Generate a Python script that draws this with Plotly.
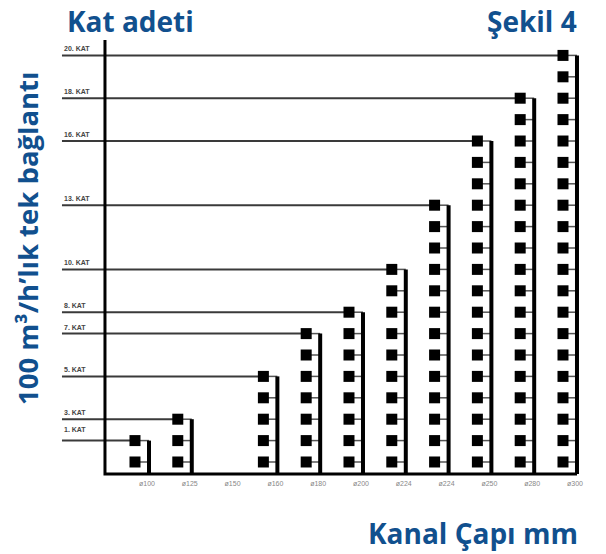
import plotly.graph_objects as go

# ---- data ----
diameters = ["ø100", "ø125", "ø150", "ø160", "ø180", "ø200", "ø224", "ø224", "ø250", "ø280", "ø300"]
square_counts = [2, 3, 0, 5, 7, 8, 10, 13, 16, 18, 20]
kat_labels = ["1. KAT", "3. KAT", "", "5. KAT", "7. KAT", "8. KAT", "10. KAT", "13. KAT", "16. KAT", "18. KAT", "20. KAT"]

title_left = "Kat adeti"
title_right = "Şekil 4"
x_title = "Kanal Çapı mm"
y_title = "100 m³/h’lık tek bağlantı"

BLUE = "#11508e"
FONT = "Open Sans"

# layout geometry (styling)
W, H = 606, 554
ML, MR, MT, MB = 60, 16, 36, 76
X_RANGE = [-1.752, 10.631]
Y_RANGE = [0.252, 20.907]
RISER_OFF = 0.327
LABEL_X = -1.706
AXIS_X = -0.701
BASE_Y = 0.439
AXIS_TOP = 20.72

idx = list(range(len(diameters)))

lx, ly = [], []
for i, n in zip(idx, square_counts):
    if n > 0:
        lx += [LABEL_X, i, None]
        ly += [n, n, None]

sx, sy = [], []
for i, n in zip(idx, square_counts):
    for k in range(1, n + 1):
        sx += [i, i + RISER_OFF, None]
        sy += [k, k, None]

rx, ry = [], []
for i, n in zip(idx, square_counts):
    if n > 0:
        rx += [i + RISER_OFF, i + RISER_OFF, None]
        ry += [n, BASE_Y, None]

qx, qy = [], []
for i, n in zip(idx, square_counts):
    for k in range(1, n + 1):
        qx.append(i)
        qy.append(k)

last = idx[-1] + RISER_OFF

fig = go.Figure()
fig.add_trace(go.Scatter(x=lx, y=ly, mode="lines", line=dict(color="#3a3a3a", width=2), hoverinfo="skip"))
fig.add_trace(go.Scatter(x=sx, y=sy, mode="lines", line=dict(color="#555555", width=1.5), hoverinfo="skip"))
fig.add_trace(go.Scatter(x=rx, y=ry, mode="lines", line=dict(color="#000000", width=4), hoverinfo="skip"))
fig.add_trace(go.Scatter(x=[AXIS_X, AXIS_X, last], y=[AXIS_TOP, BASE_Y, BASE_Y], mode="lines",
                         line=dict(color="#000000", width=3), hoverinfo="skip"))
fig.add_trace(go.Scatter(x=qx, y=qy, mode="markers",
                         marker=dict(symbol="square", size=11, color="#000000", line=dict(width=0)),
                         hoverinfo="skip"))

annotations = []
for i, n, lab in zip(idx, square_counts, kat_labels):
    if n > 0 and lab:
        annotations.append(dict(x=LABEL_X, y=n, xref="x", yref="y", text=f"<b>{lab}</b>", showarrow=False,
                                xanchor="left", yanchor="bottom", yshift=(6 if n == 2 else 1),
                                font=dict(family="Liberation Sans", size=7, color="#444444")))

def px_x(px):
    return (px - ML) / (W - ML - MR)

def px_y(py):
    return 1 - (py - MT) / (H - MT - MB)

annotations += [
    dict(x=px_x(65), y=px_y(21), xref="paper", yref="paper", text=f"<b>{title_left}</b>", showarrow=False,
         xanchor="left", yanchor="middle", font=dict(family=FONT, size=28, color=BLUE)),
    dict(x=px_x(579), y=px_y(21), xref="paper", yref="paper", text=f"<b>{title_right}</b>", showarrow=False,
         xanchor="right", yanchor="middle", font=dict(family=FONT, size=28, color=BLUE)),
    dict(x=px_x(580), y=px_y(533), xref="paper", yref="paper", text=f"<b>{x_title}</b>", showarrow=False,
         xanchor="right", yanchor="middle", font=dict(family=FONT, size=28, color=BLUE)),
    dict(x=px_x(28), y=px_y(239), xref="paper", yref="paper", text=f"<b>{y_title}</b>", showarrow=False,
         textangle=-90, xanchor="center", yanchor="middle", font=dict(family=FONT, size=27.5, color=BLUE)),
]

fig.update_layout(
    width=W, height=H, autosize=False,
    margin=dict(l=ML, r=MR, t=MT, b=MB),
    paper_bgcolor="white", plot_bgcolor="white",
    showlegend=False,
    annotations=annotations,
    xaxis=dict(range=X_RANGE, showgrid=False, zeroline=False, showline=False,
               tickmode="array", tickvals=[i + 0.28 for i in idx], ticktext=diameters,
               ticks="", tickfont=dict(family="Liberation Sans", size=7, color="#888888")),
    yaxis=dict(range=Y_RANGE, showgrid=False, zeroline=False, showline=False, showticklabels=False, ticks=""),
)

fig.write_html("out.html", config={"displayModeBar": False},
               post_script="document.body.style.margin='0px';")
